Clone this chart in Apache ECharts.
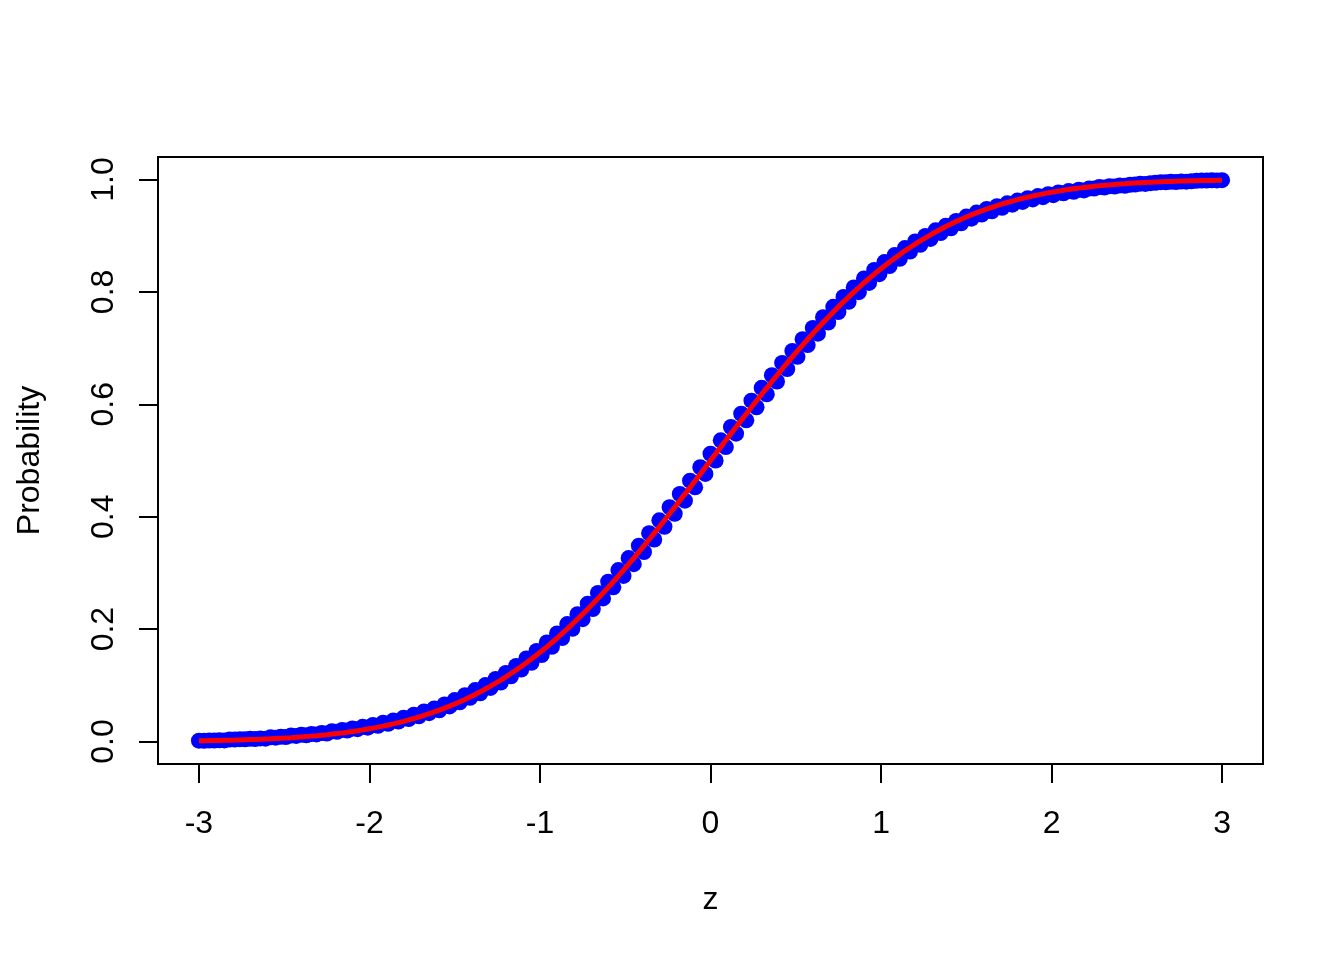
<!DOCTYPE html>
<html>
<head>
<meta charset="utf-8">
<script src="https://cdn.jsdelivr.net/npm/echarts@6/dist/echarts.min.js"></script>
<style>
  html, body { margin: 0; padding: 0; background: #fff; }
  #chart { width: 1344px; height: 960px; }
</style>
</head>
<body>
<div id="chart"></div>
<script>
// z values (same grid for the points and the curve)
var zGrid = [
  -3, -2.97, -2.94, -2.91, -2.88, -2.85, -2.82, -2.79, -2.76, -2.73,
  -2.7, -2.67, -2.64, -2.61, -2.58, -2.55, -2.52, -2.49, -2.46, -2.43,
  -2.4, -2.37, -2.34, -2.31, -2.28, -2.25, -2.22, -2.19, -2.16, -2.13,
  -2.1, -2.07, -2.04, -2.01, -1.98, -1.95, -1.92, -1.89, -1.86, -1.83,
  -1.8, -1.77, -1.74, -1.71, -1.68, -1.65, -1.62, -1.59, -1.56, -1.53,
  -1.5, -1.47, -1.44, -1.41, -1.38, -1.35, -1.32, -1.29, -1.26, -1.23,
  -1.2, -1.17, -1.14, -1.11, -1.08, -1.05, -1.02, -0.99, -0.96, -0.93,
  -0.9, -0.87, -0.84, -0.81, -0.78, -0.75, -0.72, -0.69, -0.66, -0.63,
  -0.6, -0.57, -0.54, -0.51, -0.48, -0.45, -0.42, -0.39, -0.36, -0.33,
  -0.3, -0.27, -0.24, -0.21, -0.18, -0.15, -0.12, -0.09, -0.06, -0.03,
  0,
  0.03, 0.06, 0.09, 0.12, 0.15, 0.18, 0.21, 0.24, 0.27, 0.3,
  0.33, 0.36, 0.39, 0.42, 0.45, 0.48, 0.51, 0.54, 0.57, 0.6,
  0.63, 0.66, 0.69, 0.72, 0.75, 0.78, 0.81, 0.84, 0.87, 0.9,
  0.93, 0.96, 0.99, 1.02, 1.05, 1.08, 1.11, 1.14, 1.17, 1.2,
  1.23, 1.26, 1.29, 1.32, 1.35, 1.38, 1.41, 1.44, 1.47, 1.5,
  1.53, 1.56, 1.59, 1.62, 1.65, 1.68, 1.71, 1.74, 1.77, 1.8,
  1.83, 1.86, 1.89, 1.92, 1.95, 1.98, 2.01, 2.04, 2.07, 2.1,
  2.13, 2.16, 2.19, 2.22, 2.25, 2.28, 2.31, 2.34, 2.37, 2.4,
  2.43, 2.46, 2.49, 2.52, 2.55, 2.58, 2.61, 2.64, 2.67, 2.7,
  2.73, 2.76, 2.79, 2.82, 2.85, 2.88, 2.91, 2.94, 2.97, 3
];

// red curve
var curveP = [
  .0013, .0015, .0016, .0018, .0020, .0022, .0024, .0026, .0029, .0032,
  .0035, .0038, .0041, .0045, .0049, .0054, .0059, .0064, .0069, .0075,
  .0082, .0089, .0096, .0104, .0113, .0122, .0132, .0143, .0154, .0166,
  .0179, .0192, .0207, .0222, .0239, .0256, .0274, .0294, .0314, .0336,
  .0359, .0384, .0409, .0436, .0465, .0495, .0526, .0559, .0594, .0630,
  .0668, .0708, .0749, .0793, .0838, .0885, .0934, .0985, .1038, .1093,
  .1151, .1210, .1271, .1335, .1401, .1469, .1539, .1611, .1685, .1762,
  .1841, .1922, .2005, .2090, .2177, .2266, .2358, .2451, .2546, .2643,
  .2743, .2843, .2946, .3050, .3156, .3264, .3372, .3483, .3594, .3707,
  .3821, .3936, .4052, .4168, .4286, .4404, .4522, .4641, .4761, .4880,
  .5000,
  .5120, .5239, .5359, .5478, .5596, .5714, .5832, .5948, .6064, .6179,
  .6293, .6406, .6517, .6628, .6736, .6844, .6950, .7054, .7157, .7257,
  .7357, .7454, .7549, .7642, .7734, .7823, .7910, .7995, .8078, .8159,
  .8238, .8315, .8389, .8461, .8531, .8599, .8665, .8729, .8790, .8849,
  .8907, .8962, .9015, .9066, .9115, .9162, .9207, .9251, .9292, .9332,
  .9370, .9406, .9441, .9474, .9505, .9535, .9564, .9591, .9616, .9641,
  .9664, .9686, .9706, .9726, .9744, .9761, .9778, .9793, .9808, .9821,
  .9834, .9846, .9857, .9868, .9878, .9887, .9896, .9904, .9911, .9918,
  .9925, .9931, .9936, .9941, .9946, .9951, .9955, .9959, .9962, .9965,
  .9968, .9971, .9974, .9976, .9978, .9980, .9982, .9984, .9985, .9987
];

// blue points (they zigzag around the curve)
var pointP = [
  .0015, .0013, .0018, .0016, .0022, .0020, .0036, .0034, .0042, .0039,
  .0048, .0045, .0055, .0051, .0074, .0069, .0084, .0079, .0105, .0099,
  .0119, .0112, .0134, .0126, .0152, .0143, .0183, .0172, .0206, .0194,
  .0232, .0219, .0262, .0247, .0296, .0279, .0334, .0314, .0376, .0354,
  .0424, .0399, .0476, .0449, .0535, .0505, .0589, .0556, .0660, .0624,
  .0738, .0698, .0823, .0779, .0915, .0858, .1005, .0954, .1113, .1048,
  .1220, .1161, .1345, .1281, .1479, .1401, .1611, .1539, .1762, .1685,
  .1922, .1841, .2090, .2005, .2266, .2177, .2451, .2358, .2643, .2546,
  .2843, .2743, .3050, .2946, .3264, .3156, .3483, .3372, .3707, .3594,
  .3936, .3821, .4168, .4052, .4404, .4286, .4641, .4522, .4880, .4761,
  .5120, .5000, .5359, .5239, .5596, .5478, .5832, .5714, .6064, .5948,
  .6293, .6179, .6517, .6406, .6736, .6628, .6950, .6844, .7157, .7054,
  .7357, .7257, .7549, .7454, .7734, .7642, .7910, .7823, .8078, .7995,
  .8238, .8159, .8389, .8315, .8531, .8461, .8655, .8589, .8780, .8719,
  .8897, .8839, .8995, .8942, .9095, .9046, .9177, .9132, .9262, .9221,
  .9340, .9302, .9411, .9376, .9475, .9434, .9524, .9495, .9576, .9551,
  .9624, .9601, .9666, .9646, .9704, .9686, .9738, .9721, .9768, .9753,
  .9794, .9781, .9817, .9806, .9838, .9838, .9866, .9857, .9881, .9874,
  .9895, .9888, .9906, .9911, .9926, .9921, .9935, .9941, .9952, .9949,
  .9958, .9955, .9964, .9961, .9968, .9976, .9982, .9980, .9985, .9984,
  .9988
];

var xTicks = [-3, -2, -1, 0, 1, 2, 3];
var yTicks = [0, 0.2, 0.4, 0.6, 0.8, 1];

function pairs(xs, ys) {
  var out = [];
  for (var i = 0; i < Math.min(xs.length, ys.length); i++) {
    out.push([xs[i], ys[i]]);
  }
  return out;
}

var chart = echarts.init(document.getElementById("chart"), null, { renderer: "canvas" });
var font = "Liberation Sans, Arial, Helvetica, sans-serif";

chart.setOption({
  animation: false,
  backgroundColor: "#ffffff",
  grid: {
    left: 158,
    right: 81,
    top: 157,
    bottom: 196,
    show: true,
    borderColor: "#000000",
    borderWidth: 2,
    backgroundColor: "transparent"
  },
  xAxis: {
    type: "value",
    min: -3.24,
    max: 3.24,
    name: "z",
    nameLocation: "middle",
    nameGap: 120,
    nameTextStyle: { fontFamily: font, fontSize: 32, color: "#000" },
    axisLine: { show: false, onZero: false },
    splitLine: { show: false },
    axisTick: {
      show: true,
      inside: false,
      length: 19,
      customValues: xTicks,
      lineStyle: { color: "#000", width: 2 }
    },
    axisLabel: {
      show: true,
      margin: 44,
      customValues: xTicks,
      fontFamily: font,
      fontSize: 32,
      color: "#000"
    }
  },
  yAxis: {
    type: "value",
    min: -0.04,
    max: 1.04,
    name: "Probability",
    nameLocation: "middle",
    nameGap: 112,
    nameRotate: 90,
    nameTextStyle: { fontFamily: font, fontSize: 32, color: "#000" },
    axisLine: { show: false, onZero: false },
    splitLine: { show: false },
    axisTick: {
      show: true,
      inside: false,
      length: 19,
      customValues: yTicks,
      lineStyle: { color: "#000", width: 2 }
    },
    axisLabel: {
      show: true,
      rotate: 90,
      margin: 38,
      customValues: yTicks,
      fontFamily: font,
      fontSize: 32,
      color: "#000",
      formatter: function (v) { return Number(v).toFixed(1); }
    }
  },
  series: [
    {
      name: "points",
      type: "scatter",
      data: pairs(zGrid, pointP),
      symbol: "circle",
      symbolSize: 16,
      itemStyle: { color: "#0000ff", opacity: 1 },
      silent: true,
      z: 2
    },
    {
      name: "curve",
      type: "line",
      data: pairs(zGrid, curveP),
      showSymbol: false,
      smooth: false,
      lineStyle: { color: "#ff0000", width: 5 },
      silent: true,
      z: 3
    }
  ]
});
</script>
</body>
</html>
